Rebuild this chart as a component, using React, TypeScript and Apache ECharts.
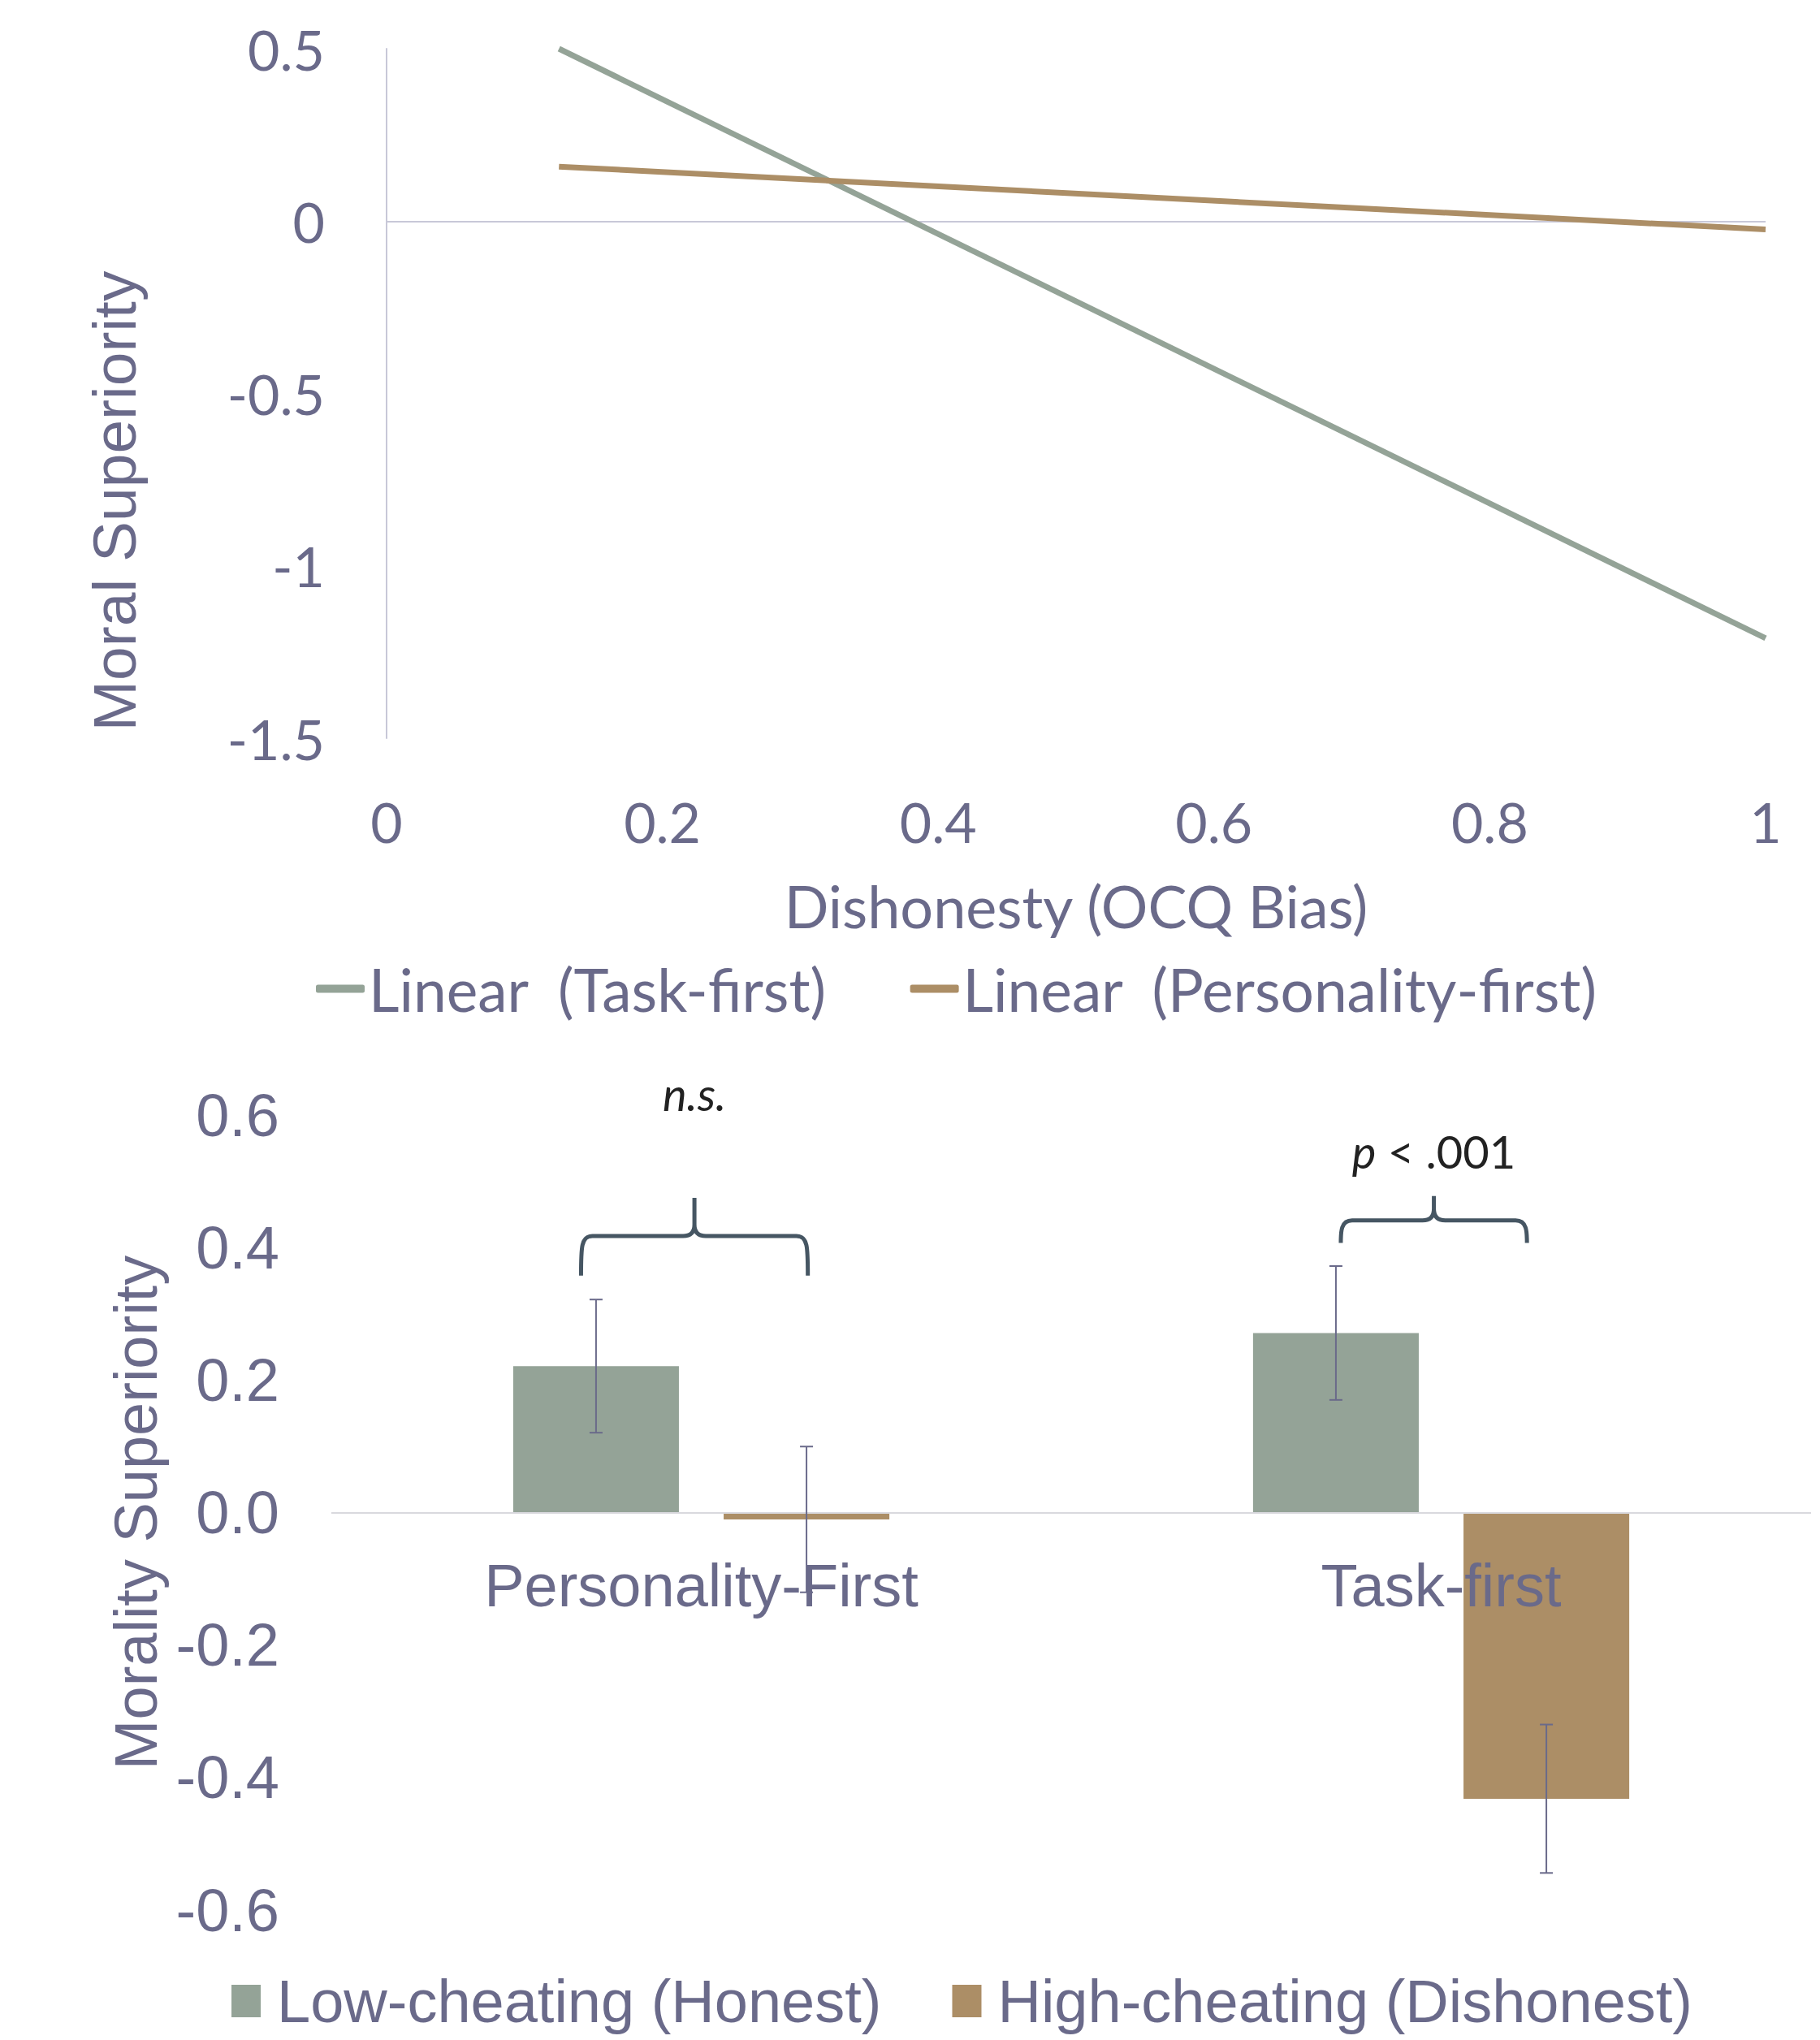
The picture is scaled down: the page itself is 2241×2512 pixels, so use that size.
import React, { useEffect, useRef } from "react";
import * as echarts from "echarts";

// ---------- Top chart data ----------
const lineXTicks = [0, 0.2, 0.4, 0.6, 0.8, 1];
const taskFirstLine = [
  [0.125, 0.5],
  [1, -1.21],
];
const personalityFirstLine = [
  [0.125, 0.158],
  [1, -0.024],
];
const lineNames = ["Linear  (Task-first)", "Linear  (Personality-first)"];
const topYTitle = "Moral Superiority";

// ---------- Bottom chart data ----------
const categories = ["Personality-First", "Task-first"];
const barNames = ["Low-cheating (Honest)", "High-cheating (Dishonest)"];
const lowCheating = [0.221, 0.271];
const highCheating = [-0.0104, -0.432];
const lowCheatingErr = [0.1005, 0.101];
const highCheatingErr = [0.11, 0.112];
const barYMin = -0.6;
const barYMax = 0.6;

// significance brackets (category index, y of brace bar, y of ends, y of peak, left/right offset in category bands)
const bracketCat = [0, 1];
const bracketY = [0.4175, 0.441];
const bracketEndY = [0.3577, 0.407];
const bracketPeakY = [0.475, 0.4776];
const bracketLeft = [-0.1625, -0.1356];
const bracketRight = [0.144, 0.116];
const sigLabels = ["{i|n.s.}", "{i|p} < .001"];
const sigLabelY = [0.632, 0.546];

const TEXT = "#6a6a8a";
const GREEN = "#94a397";
const TAN = "#ac8e66";
const BRACE = "#465663";
const CAL = "Lato, 'Open Sans', sans-serif";
const ARIAL = "'Liberation Sans', Arial, sans-serif";

const BAR_W = 0.224;
const BAR_GAP = 0.27;

const TOP_GRID = { left: 476, top: 60, width: 1698, height: 849 };
const BOT_GRID = { left: 408, top: 1373, width: 1822, height: 979 };

export default function App() {
  const ref = useRef<HTMLDivElement>(null);

  useEffect(() => {
    document.body.style.margin = "0";
    const chart = echarts.init(ref.current!, null, { renderer: "svg" });

    const offset = (BAR_W + BAR_W * BAR_GAP) / 2;

    const errData: number[][] = [];
    lowCheating.forEach((v, i) => errData.push([i, v - lowCheatingErr[i], v + lowCheatingErr[i], -1]));
    highCheating.forEach((v, i) => errData.push([i, v - highCheatingErr[i], v + highCheatingErr[i], 1]));

    const bracketData = bracketCat.map((c, i) => [c, bracketY[i], bracketEndY[i], bracketPeakY[i], sigLabelY[i]]);

    // category labels sit next to the zero line (Excel "next to axis")
    const zeroOffset = -((0 - barYMin) / (barYMax - barYMin)) * BOT_GRID.height;

    const option: any = {
      animation: false,
      backgroundColor: "#ffffff",
      textStyle: { fontFamily: ARIAL, color: TEXT },
      grid: [TOP_GRID, BOT_GRID],
      graphic: [
        {
          type: "text",
          x: 141,
          y: 617,
          rotation: Math.PI / 2,
          style: {
            text: topYTitle,
            align: "center",
            verticalAlign: "middle",
            fontFamily: ARIAL,
            fontSize: 75,
            fill: TEXT,
          },
        },
      ],
      legend: [
        {
          data: lineNames,
          left: 384,
          top: 1176,
          icon: "roundRect",
          itemWidth: 60,
          itemHeight: 10,
          itemGap: 102,
          selectedMode: false,
          textStyle: { fontFamily: CAL, fontSize: 73, color: TEXT },
        },
        {
          data: barNames,
          left: 280,
          top: 2422,
          icon: "rect",
          itemWidth: 36,
          itemHeight: 40,
          itemGap: 87,
          selectedMode: false,
          textStyle: { fontFamily: ARIAL, fontSize: 74, color: TEXT, padding: [0, 0, 0, 15] },
        },
      ],
      xAxis: [
        {
          gridIndex: 0,
          type: "value",
          min: lineXTicks[0],
          max: lineXTicks[lineXTicks.length - 1],
          interval: 0.2,
          position: "bottom",
          axisLine: { show: false, onZero: false },
          axisTick: { show: false },
          splitLine: { show: false },
          axisLabel: { fontFamily: CAL, fontSize: 68, color: TEXT, margin: 68 },
          name: "Dishonesty (OCQ Bias)",
          nameLocation: "middle",
          nameGap: 170,
          nameTextStyle: { fontFamily: CAL, fontSize: 72, color: TEXT },
        },
        {
          gridIndex: 1,
          type: "category",
          data: categories,
          z: 5,
          position: "bottom",
          offset: zeroOffset,
          axisLine: { show: false, onZero: false },
          axisTick: { show: false },
          splitLine: { show: false },
          axisLabel: { fontFamily: ARIAL, fontSize: 74, color: TEXT, margin: 53, interval: 0 },
        },
      ],
      yAxis: [
        {
          gridIndex: 0,
          type: "value",
          min: -1.5,
          max: 0.5,
          interval: 0.5,
          axisLine: { show: true, lineStyle: { color: "#c8c8d8", width: 2 } },
          axisTick: { show: false },
          splitLine: { show: false },
          axisLabel: { fontFamily: CAL, fontSize: 68, color: TEXT, margin: 76 },
        },
        {
          gridIndex: 1,
          type: "value",
          min: barYMin,
          max: barYMax,
          interval: 0.2,
          axisLine: { show: false },
          axisTick: { show: false },
          splitLine: { show: false },
          axisLabel: {
            fontFamily: ARIAL,
            fontSize: 74,
            color: TEXT,
            margin: 64,
            formatter: (v: number) => (Math.abs(v) < 1e-9 ? 0 : v).toFixed(1),
          },
          name: "Morality Superiority",
          nameLocation: "middle",
          nameRotate: 90,
          nameGap: 204,
          nameTextStyle: { fontFamily: ARIAL, fontSize: 74, color: TEXT },
        },
      ],
      series: [
        {
          type: "line",
          name: lineNames[0],
          xAxisIndex: 0,
          yAxisIndex: 0,
          data: taskFirstLine,
          showSymbol: false,
          symbol: "none",
          color: GREEN,
          lineStyle: { color: GREEN, width: 7 },
          z: 3,
          markLine: {
            silent: true,
            symbol: "none",
            label: { show: false },
            lineStyle: { color: "#c8c8d8", width: 2, type: "solid" },
            data: [{ yAxis: 0 }],
            z: 1,
          },
        },
        {
          type: "line",
          name: lineNames[1],
          xAxisIndex: 0,
          yAxisIndex: 0,
          data: personalityFirstLine,
          showSymbol: false,
          symbol: "none",
          color: TAN,
          lineStyle: { color: TAN, width: 7 },
          z: 3,
        },
        {
          type: "bar",
          name: barNames[0],
          xAxisIndex: 1,
          yAxisIndex: 1,
          data: lowCheating,
          barWidth: BAR_W * 100 + "%",
          barGap: BAR_GAP * 100 + "%",
          color: GREEN,
          itemStyle: { color: GREEN },
          markLine: {
            silent: true,
            symbol: "none",
            label: { show: false },
            lineStyle: { color: "#d9d9de", width: 2, type: "solid" },
            data: [{ yAxis: 0 }],
          },
        },
        {
          type: "bar",
          name: barNames[1],
          xAxisIndex: 1,
          yAxisIndex: 1,
          data: highCheating,
          barWidth: BAR_W * 100 + "%",
          barGap: BAR_GAP * 100 + "%",
          color: TAN,
          itemStyle: { color: TAN },
        },
        {
          type: "custom",
          name: "errors",
          xAxisIndex: 1,
          yAxisIndex: 1,
          z: 10,
          silent: true,
          data: errData,
          renderItem: (params: any, api: any) => {
            const band = api.size([1, 0])[0];
            const lo = api.coord([api.value(0), api.value(1)]);
            const hi = api.coord([api.value(0), api.value(2)]);
            const x = lo[0] + api.value(3) * offset * band;
            const cap = 8;
            const st = { stroke: TEXT, lineWidth: 2 };
            return {
              type: "group",
              children: [
                { type: "line", shape: { x1: x, y1: lo[1], x2: x, y2: hi[1] }, style: st },
                { type: "line", shape: { x1: x - cap, y1: lo[1], x2: x + cap, y2: lo[1] }, style: st },
                { type: "line", shape: { x1: x - cap, y1: hi[1], x2: x + cap, y2: hi[1] }, style: st },
              ],
            };
          },
        },
        {
          type: "custom",
          name: "brackets",
          xAxisIndex: 1,
          yAxisIndex: 1,
          z: 10,
          silent: true,
          data: bracketData,
          renderItem: (params: any, api: any) => {
            const i = params.dataIndex;
            const band = api.size([1, 0])[0];
            const c = api.coord([api.value(0), api.value(1)]);
            const yE = api.coord([api.value(0), api.value(2)])[1];
            const yP = api.coord([api.value(0), api.value(3)])[1];
            const yL = api.coord([api.value(0), api.value(4)])[1];
            const yH = c[1];
            const x1 = c[0] + bracketLeft[i] * band;
            const x2 = c[0] + bracketRight[i] * band;
            const xc = (x1 + x2) / 2;
            const r = 14;
            const d =
              `M${x1} ${yE} C${x1} ${yH + r} ${x1} ${yH} ${x1 + r} ${yH} L${xc - r} ${yH} Q${xc} ${yH} ${xc} ${yH - r} L${xc} ${yP} ` +
              `M${xc} ${yH - r} Q${xc} ${yH} ${xc + r} ${yH} L${x2 - r} ${yH} C${x2} ${yH} ${x2} ${yH + r} ${x2} ${yE}`;
            return {
              type: "group",
              children: [
                { type: "path", shape: { pathData: d }, style: { fill: "none", stroke: BRACE, lineWidth: 5 } },
                {
                  type: "text",
                  style: {
                    text: sigLabels[i],
                    x: xc,
                    y: yL,
                    align: "center",
                    verticalAlign: "middle",
                    fontFamily: CAL,
                    fontSize: 56,
                    fill: "#222222",
                    rich: {
                      i: { fontStyle: "italic", fontFamily: CAL, fontSize: 56, fill: "#222222" },
                    },
                  },
                },
              ],
            };
          },
        },
      ],
    };

    chart.setOption(option);
    return () => chart.dispose();
  }, []);

  return <div ref={ref} style={{ position: "absolute", left: 0, top: 0, width: 2241, height: 2512 }} />;
}
